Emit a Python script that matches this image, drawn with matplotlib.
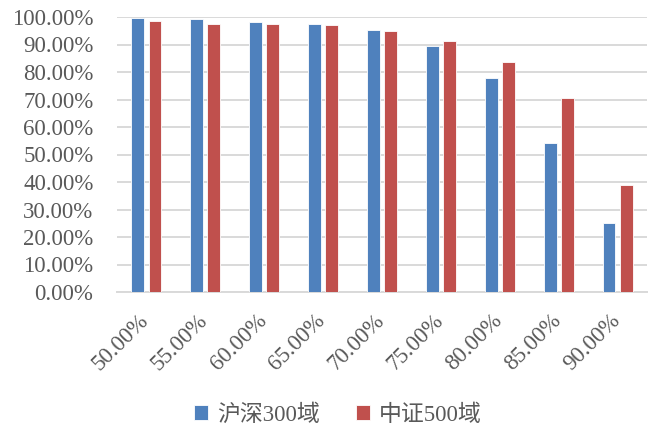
import matplotlib
matplotlib.use("Agg")
import matplotlib.pyplot as plt
import matplotlib.transforms as mtransforms
import numpy as np
from matplotlib.ticker import FuncFormatter, MultipleLocator

categories = ["50.00%", "55.00%", "60.00%", "65.00%", "70.00%",
              "75.00%", "80.00%", "85.00%", "90.00%"]
hs300 = [99.5, 99.2, 98.2, 97.5, 95.2, 89.6, 77.7, 54.1, 25.0]
zz500 = [98.4, 97.6, 97.3, 97.0, 94.9, 91.4, 83.5, 70.7, 38.9]
series_names = ["沪深300域", "中证500域"]

blue = "#4F81BD"
red = "#C0504D"
text_gray = "#595959"
grid_gray = "#D9D9D9"

plt.rcParams["font.family"] = ["Liberation Serif", "Noto Sans CJK SC"]

fig = plt.figure(figsize=(6.51, 4.29), dpi=100)
ax = fig.add_axes([117 / 651, 1 - 292 / 429, 530 / 651, 275 / 429])

x = np.arange(len(categories))
w = 0.22
ax.bar(x - 0.145, hs300, width=w, color=blue, edgecolor="white", linewidth=0.6,
       label=series_names[0], zorder=3)
ax.bar(x + 0.145, zz500, width=w, color=red, edgecolor="white", linewidth=0.6,
       label=series_names[1], zorder=3)

ax.set_xlim(-0.5, len(categories) - 0.5)
ax.set_ylim(0, 100)
ax.yaxis.set_major_locator(MultipleLocator(10))
ax.yaxis.set_major_formatter(FuncFormatter(lambda v, p: f"{v:.2f}%"))
ax.grid(axis="y", color=grid_gray, linewidth=1.4, zorder=0)
ax.set_axisbelow(True)

for s in ["top", "right", "left"]:
    ax.spines[s].set_visible(False)
ax.spines["bottom"].set_color(grid_gray)
ax.spines["bottom"].set_linewidth(1.4)

ax.tick_params(axis="both", length=0, labelsize=16.5, colors=text_gray)
ax.tick_params(axis="y", pad=17)
ax.set_xticks(x)
ax.set_xticklabels(categories, rotation=45, ha="right", rotation_mode="anchor")
ax.tick_params(axis="x", pad=13)
shift = mtransforms.ScaledTranslation(-6 / 72, 0, fig.dpi_scale_trans)
for lbl in ax.get_xticklabels():
    lbl.set_transform(lbl.get_transform() + shift)

leg = fig.legend(loc="center", bbox_to_anchor=(338 / 651, 1 - 415 / 429), ncol=2,
                 frameon=False, fontsize=16.5, handlelength=0.6, handleheight=0.6,
                 handletextpad=0.4, columnspacing=1.6)
for t in leg.get_texts():
    t.set_color(text_gray)

fig.savefig("out.png", dpi=100)
